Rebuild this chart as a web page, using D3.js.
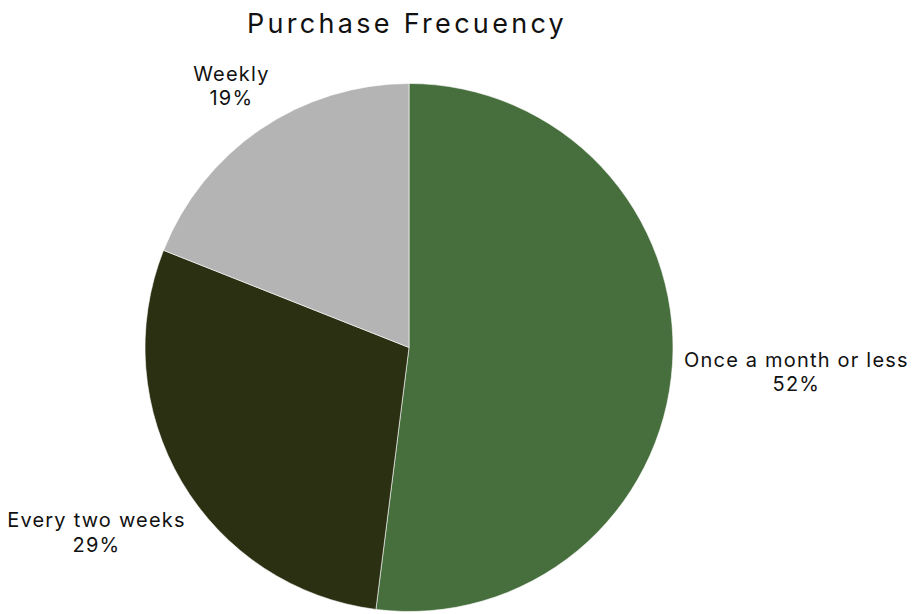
<!DOCTYPE html>
<html>
<head>
<meta charset="utf-8">
<script src="https://cdn.jsdelivr.net/npm/d3@7"></script>
<style>
  html, body { margin: 0; padding: 0; background: #ffffff; }
  svg { display: block; font-family: "Inter", "Noto Sans", sans-serif; }
</style>
</head>
<body>
<svg id="chart" width="912" height="614"></svg>
<script>
// Purchase frequency shares (percent)
const categories = ["Once a month or less", "Every two weeks", "Weekly"];
const shares = [52, 29, 19];
const colors = ["#476e3d", "#2a3011", "#b4b4b4"];
const title = "Purchase Frecuency";

const width = 912, height = 614;
const cx = 409, cy = 347.5, radius = 264;

const svg = d3.select("#chart");

svg.append("text")
  .attr("x", 407)
  .attr("y", 33)
  .attr("text-anchor", "middle")
  .attr("font-size", 27)
  .attr("letter-spacing", 3.3)
  .attr("fill", "#111")
  .text(title);

const data = categories.map((c, i) => ({ label: c, value: shares[i], color: colors[i] }));

const pie = d3.pie().value(d => d.value).sort(null);
const arcs = pie(data);
const arc = d3.arc().innerRadius(0).outerRadius(radius);

const g = svg.append("g").attr("transform", `translate(${cx},${cy})`);

g.selectAll("path")
  .data(arcs)
  .join("path")
  .attr("d", arc)
  .attr("fill", d => d.data.color)
  .attr("stroke", "#ffffff")
  .attr("stroke-width", 0.6);

// Distance from the pie centre to the nearest point of a box centred at (x, y)
function boxDist(x, y, w, h) {
  const nx = Math.max(0, Math.abs(x) - w / 2);
  const ny = Math.max(0, Math.abs(y) - h / 2);
  return Math.hypot(nx, ny);
}

// Outside labels: box centred on the slice's mid ray, pushed out until it clears the rim
const gap = 11;
arcs.forEach(a => {
  const mid = (a.startAngle + a.endAngle) / 2;
  const s = Math.sin(mid), c = Math.cos(mid);

  const t = svg.append("text")
    .attr("text-anchor", "middle")
    .attr("font-size", 20)
    .attr("letter-spacing", 1.2)
    .attr("fill", "#111");
  t.append("tspan").attr("x", 0).attr("dy", 0).text(a.data.label);
  t.append("tspan").attr("x", 0).attr("dy", 24.5).text(a.data.value + "%");

  const bb = t.node().getBBox();
  const w = bb.width, h = bb.height;
  let lo = 0, hi = 1000;
  for (let k = 0; k < 40; k++) {
    const m = (lo + hi) / 2;
    if (boxDist(m * s, -m * c, w, h) < radius + gap) lo = m; else hi = m;
  }
  const bx = cx + hi * s, by = cy - hi * c;
  const dx = bx - (bb.x + w / 2), dy = by - (bb.y + h / 2);
  t.attr("transform", `translate(${dx},${dy})`);
});
</script>
</body>
</html>
